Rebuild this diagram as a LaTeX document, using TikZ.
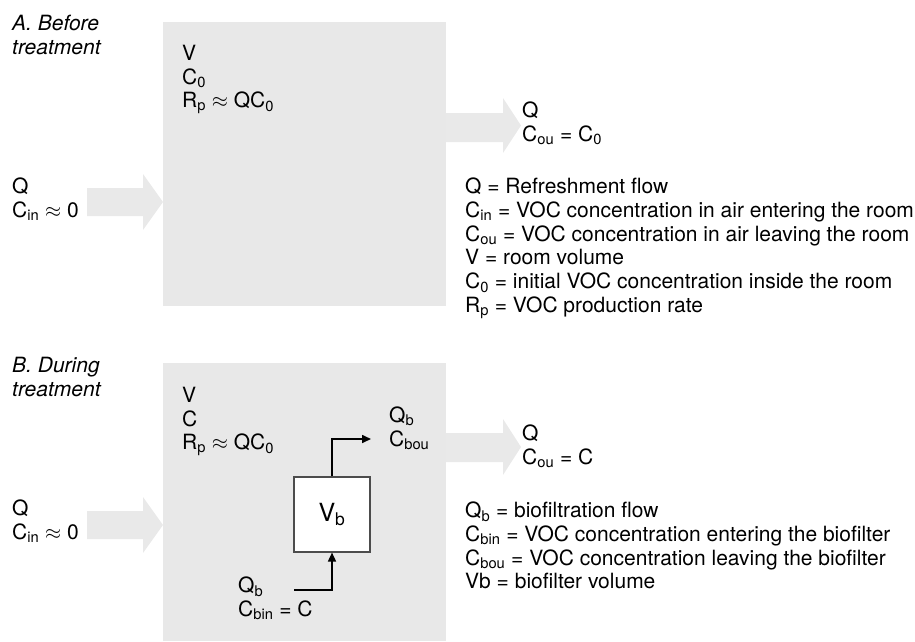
\documentclass[tikz,border=0pt]{standalone}
\usepackage{fontspec}
\setmainfont{TeX Gyre Heros}
\usetikzlibrary{arrows.meta, positioning}
\tikzset{
    room/.style={fill=gray!18, draw=none, inner sep=0pt, anchor=north west},
    bigflow/.style={fill=gray!17, draw=none},
    txt/.style={align=left, anchor=north west, inner sep=0pt, font=\fontsize{21}{23.8}\selectfont},
    title/.style={txt, font=\fontsize{21}{24}\selectfont\itshape},
    filterbox/.style={draw=black!70, fill=white, line width=1.1pt, minimum width=76pt, minimum height=75pt, inner sep=0pt, font=\fontsize{25}{28}\selectfont},
    flow/.style={-{Triangle[length=9pt,width=8pt]}, line width=1.6pt, black}
}
\newcommand{\lo}[1]{\textsubscript{#1}}

\begin{document}
\begin{tikzpicture}[x=1pt, y=-1pt]
        \useasboundingbox (0,0) rectangle (915,642);
        % A. before treatment
        \node [room, minimum width=283pt, minimum height=284pt] (roomA) at (163,22) {};
        \fill [bigflow] (87,188) -- (143,188) -- (143,174) -- (163,202) -- (143,230) -- (143,216) -- (87,216) -- cycle;
        \fill [bigflow] (446,113) -- (503,113) -- (503,98) -- (521,125.5) -- (503,153) -- (503,142) -- (446,142) -- cycle;
        \node [title] (titleA) at (12,14.7) {A. Before\\treatment};
        \node [txt] (insideA) at (182,44.7) {V\\C\lo{0}\\R\lo{p} $\approx$ QC\lo{0}};
        \node [txt] (inA) at (12,177.7) {Q\\C\lo{in} $\approx$ 0};
        \node [txt] (outA) at (522,101.7) {Q\\C\lo{ou} = C\lo{0}};
        \node [txt] (legendA) at (465,177.7) {Q = Refreshment flow\\
            C\lo{in} = VOC concentration in air entering the room\\
            C\lo{ou} = VOC concentration in air leaving the room\\
            V = room volume\\
            C\lo{0} = initial VOC concentration inside the room\\
            R\lo{p} = VOC production rate};
        % B. during treatment
        \node [room, minimum width=283pt, minimum height=278pt] (roomB) at (163,363) {};
        \fill [bigflow] (87,511) -- (143,511) -- (143,497) -- (163,525) -- (143,553) -- (143,539) -- (87,539) -- cycle;
        \fill [bigflow] (446,433) -- (503,433) -- (503,419) -- (521,447) -- (503,475) -- (503,462) -- (446,462) -- cycle;
        \node [title] (titleB) at (12,356.7) {B. During\\treatment};
        \node [txt] (insideB) at (182,386.7) {V\\C\\R\lo{p} $\approx$ QC\lo{0}};
        \node [txt] (inB) at (12,499.7) {Q\\C\lo{in} $\approx$ 0};
        \node [txt] (outB) at (522,424.7) {Q\\C\lo{ou} = C};
        \node [txt] (legendB) at (465,501.7) {Q\lo{b} = biofiltration flow\\
            C\lo{bin} = VOC concentration entering the biofilter\\
            C\lo{bou} = VOC concentration leaving the biofilter\\
            Vb = biofilter volume};
        % biofilter
        \node [filterbox] (filter) at (332,514.5) {V\lo{b}};
        \coordinate (fout) at (371,439);
        \coordinate (fin) at (294,590);
        \draw [flow] (filter.north) |- (fout);
        \draw [flow] (fin) -| (filter.south);
        \node [txt] (outF) at (389,406.4) {Q\lo{b}\\C\lo{bou}};
        \node [txt] (inF) at (238,576.7) {Q\lo{b}\\C\lo{bin} = C};
    \end{tikzpicture}
\end{document}
